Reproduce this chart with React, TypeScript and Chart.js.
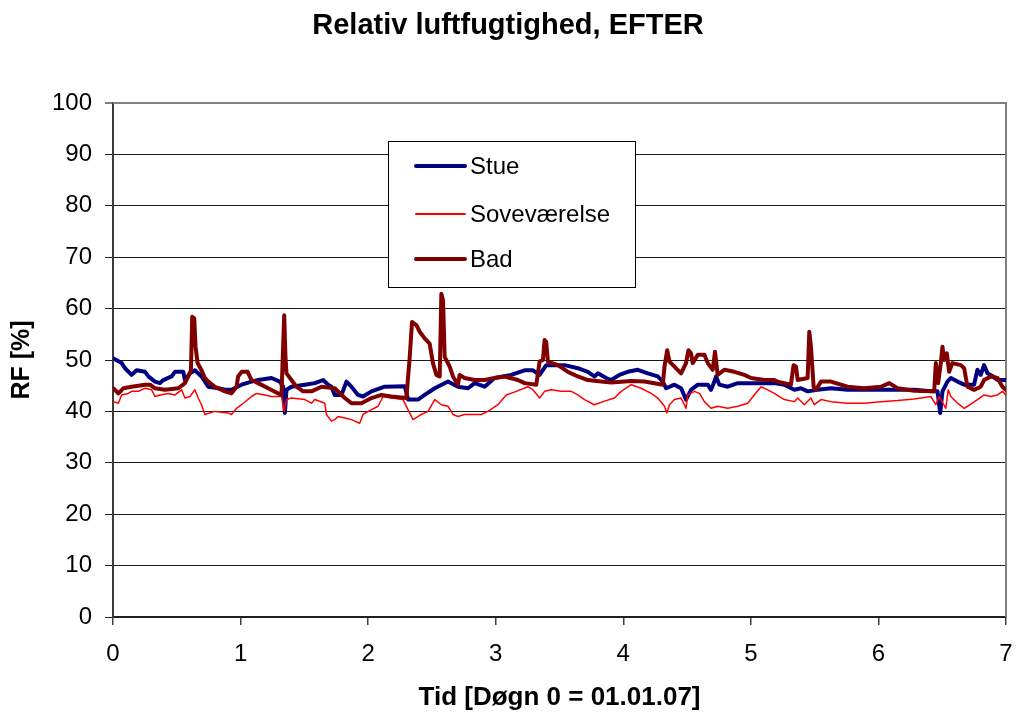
import React, { useEffect, useRef } from 'react';
import { Chart, registerables } from 'chart.js';

Chart.register(...registerables);

const TITLE = 'Relativ luftfugtighed, EFTER';
const X_TITLE = 'Tid [Døgn 0 = 01.01.07]';
const Y_TITLE = 'RF [%]';
const SERIES_LABELS = ['Stue', 'Soveværelse', 'Bad'];
const SERIES_COLORS = ['#000080', '#FF0000', '#800000'];

const stueX = [0.003, 0.068, 0.094, 0.146, 0.185, 0.251, 0.277, 0.329, 0.368, 0.394, 0.459, 0.486, 0.551, 0.564, 0.603, 0.642, 0.694, 0.747, 0.825, 0.877, 0.929, 1.008, 1.086, 1.138, 1.243, 1.308, 1.334, 1.347, 1.36, 1.399, 1.504, 1.582, 1.647, 1.686, 1.712, 1.738, 1.791, 1.83, 1.869, 1.921, 1.96, 2.026, 2.13, 2.287, 2.313, 2.391, 2.443, 2.522, 2.626, 2.704, 2.783, 2.835, 2.913, 2.991, 3.122, 3.226, 3.292, 3.344, 3.396, 3.461, 3.54, 3.644, 3.722, 3.774, 3.801, 3.866, 3.905, 3.97, 4.035, 4.114, 4.192, 4.27, 4.31, 4.336, 4.401, 4.453, 4.492, 4.531, 4.584, 4.662, 4.688, 4.714, 4.727, 4.753, 4.819, 4.897, 5.001, 5.08, 5.184, 5.262, 5.341, 5.393, 5.445, 5.523, 5.628, 5.758, 5.889, 6.019, 6.15, 6.28, 6.411, 6.463, 6.484, 6.502, 6.541, 6.568, 6.62, 6.672, 6.75, 6.776, 6.802, 6.828, 6.855, 6.899, 6.933, 6.998];
const stueY = [50.3, 49.4, 48.4, 47.1, 48.0, 47.7, 46.8, 45.8, 45.5, 46.1, 46.8, 47.7, 47.7, 46.1, 47.4, 48.0, 46.8, 44.8, 44.5, 44.2, 44.2, 45.2, 45.8, 46.1, 46.5, 45.8, 44.8, 39.7, 44.2, 44.8, 45.2, 45.5, 46.1, 45.2, 44.8, 43.2, 43.2, 45.8, 44.8, 43.2, 42.9, 43.9, 44.8, 44.9, 42.3, 42.3, 43.2, 44.5, 45.8, 44.8, 44.5, 45.5, 44.8, 46.5, 47.1, 48.0, 48.0, 47.1, 49.0, 49.0, 49.0, 48.4, 47.7, 46.8, 47.4, 46.5, 46.1, 47.1, 47.7, 48.1, 47.4, 46.8, 45.8, 44.5, 45.2, 44.5, 42.3, 44.2, 45.2, 45.2, 44.2, 45.8, 46.8, 45.2, 44.8, 45.5, 45.5, 45.5, 45.5, 45.2, 44.2, 44.5, 43.9, 44.2, 44.5, 44.2, 44.2, 44.2, 44.2, 44.2, 43.9, 43.9, 39.7, 43.9, 45.8, 46.5, 45.8, 45.2, 45.2, 48.1, 47.1, 49.0, 47.4, 46.8, 46.1, 46.1];

const sovX = [0.003, 0.042, 0.068, 0.12, 0.146, 0.198, 0.251, 0.303, 0.329, 0.368, 0.433, 0.486, 0.538, 0.564, 0.603, 0.642, 0.668, 0.694, 0.72, 0.799, 0.903, 0.929, 0.968, 1.008, 1.086, 1.125, 1.19, 1.243, 1.321, 1.342, 1.36, 1.399, 1.504, 1.556, 1.582, 1.66, 1.673, 1.712, 1.738, 1.765, 1.817, 1.869, 1.934, 1.96, 2.0, 2.078, 2.117, 2.182, 2.274, 2.313, 2.352, 2.417, 2.469, 2.522, 2.574, 2.626, 2.665, 2.704, 2.756, 2.809, 2.887, 2.939, 3.017, 3.083, 3.161, 3.252, 3.292, 3.344, 3.383, 3.435, 3.513, 3.592, 3.644, 3.696, 3.774, 3.853, 3.931, 3.983, 4.062, 4.14, 4.218, 4.27, 4.323, 4.341, 4.362, 4.401, 4.453, 4.492, 4.505, 4.558, 4.597, 4.636, 4.688, 4.74, 4.819, 4.897, 4.975, 5.027, 5.08, 5.132, 5.184, 5.262, 5.341, 5.367, 5.419, 5.471, 5.497, 5.55, 5.628, 5.758, 5.889, 6.019, 6.15, 6.28, 6.411, 6.45, 6.476, 6.528, 6.547, 6.568, 6.62, 6.672, 6.698, 6.776, 6.828, 6.881, 6.933, 6.972, 6.998];
const sovY = [41.9, 41.6, 43.2, 43.5, 43.9, 43.9, 44.5, 44.2, 42.9, 43.2, 43.5, 43.2, 44.2, 42.6, 42.9, 44.2, 42.6, 41.3, 39.4, 40.0, 39.7, 39.4, 40.6, 41.3, 42.9, 43.5, 43.2, 42.9, 42.9, 40.0, 42.3, 42.6, 42.3, 41.6, 42.3, 41.6, 39.4, 38.1, 38.4, 39.0, 38.7, 38.4, 37.7, 39.4, 40.0, 41.0, 42.9, 42.6, 42.3, 40.3, 38.4, 39.4, 40.0, 42.3, 41.3, 41.0, 39.4, 39.0, 39.4, 39.4, 39.4, 40.0, 41.3, 43.2, 43.9, 44.8, 44.2, 42.6, 43.9, 44.2, 43.9, 43.9, 43.2, 42.3, 41.3, 42.0, 42.6, 43.9, 45.2, 44.5, 43.5, 42.6, 41.0, 39.7, 41.3, 42.3, 42.6, 40.6, 43.2, 43.9, 43.5, 41.9, 40.6, 41.0, 40.6, 41.0, 41.6, 43.2, 44.8, 44.2, 43.5, 42.3, 41.9, 42.6, 41.3, 42.6, 41.3, 42.3, 41.9, 41.6, 41.6, 41.9, 42.1, 42.4, 42.9, 41.3, 42.9, 40.6, 44.2, 42.9, 41.6, 40.6, 41.0, 42.3, 43.2, 42.9, 43.2, 43.9, 43.2];

const badX = [0.003, 0.042, 0.081, 0.146, 0.251, 0.29, 0.329, 0.407, 0.512, 0.564, 0.59, 0.611, 0.621, 0.637, 0.647, 0.663, 0.694, 0.72, 0.747, 0.799, 0.877, 0.929, 0.968, 0.981, 1.008, 1.055, 1.086, 1.138, 1.216, 1.295, 1.321, 1.329, 1.342, 1.352, 1.36, 1.399, 1.438, 1.49, 1.556, 1.634, 1.738, 1.817, 1.869, 1.947, 2.026, 2.104, 2.182, 2.3, 2.326, 2.344, 2.378, 2.404, 2.443, 2.482, 2.508, 2.535, 2.561, 2.574, 2.587, 2.6, 2.639, 2.665, 2.704, 2.717, 2.756, 2.835, 2.913, 2.991, 3.07, 3.174, 3.226, 3.318, 3.344, 3.37, 3.383, 3.396, 3.409, 3.487, 3.566, 3.644, 3.722, 3.827, 3.905, 4.062, 4.166, 4.31, 4.323, 4.344, 4.362, 4.401, 4.453, 4.492, 4.511, 4.531, 4.544, 4.584, 4.636, 4.662, 4.701, 4.719, 4.74, 4.792, 4.871, 4.949, 5.001, 5.106, 5.184, 5.21, 5.314, 5.335, 5.354, 5.367, 5.445, 5.458, 5.471, 5.492, 5.51, 5.55, 5.628, 5.758, 5.889, 6.019, 6.085, 6.15, 6.28, 6.437, 6.45, 6.468, 6.489, 6.502, 6.515, 6.536, 6.554, 6.58, 6.646, 6.672, 6.698, 6.75, 6.802, 6.828, 6.881, 6.933, 6.972, 6.998];
const badY = [44.5, 43.5, 44.5, 44.8, 45.2, 45.2, 44.5, 44.2, 44.5, 45.5, 46.8, 48.0, 58.4, 58.1, 52.6, 49.4, 48.0, 46.5, 45.8, 44.8, 43.9, 43.5, 44.8, 46.8, 47.7, 47.7, 46.1, 45.5, 44.5, 43.5, 43.2, 49.4, 58.7, 50.6, 47.4, 46.1, 44.8, 43.9, 43.9, 44.8, 44.5, 42.6, 41.6, 41.6, 42.6, 43.2, 42.9, 42.6, 50.6, 57.4, 56.8, 55.5, 54.2, 53.2, 49.4, 47.1, 46.8, 62.9, 61.6, 50.6, 48.7, 46.8, 45.2, 47.1, 46.5, 46.1, 46.1, 46.5, 46.8, 46.1, 45.5, 45.2, 49.7, 50.0, 53.9, 53.5, 49.7, 49.0, 47.7, 46.8, 46.1, 45.8, 45.6, 45.9, 45.8, 45.2, 48.7, 51.9, 49.7, 48.7, 47.4, 49.4, 51.9, 51.3, 49.4, 51.0, 51.0, 49.4, 48.1, 51.6, 47.1, 48.1, 47.7, 47.1, 46.5, 46.1, 46.1, 45.8, 45.2, 49.0, 48.7, 46.1, 46.5, 55.5, 52.6, 44.8, 44.2, 45.8, 45.8, 44.8, 44.5, 44.8, 45.5, 44.5, 44.0, 43.9, 49.4, 45.5, 49.4, 52.6, 50.0, 51.3, 47.7, 49.4, 49.0, 48.4, 44.8, 44.2, 44.8, 46.1, 46.8, 46.5, 44.8, 44.2];

const X_MIN = 0;
const X_MAX = 7;
const Y_MIN = 0;
const Y_MAX = 100;

const toPoints = (xs: number[], ys: number[]) => xs.map((x, i) => ({ x, y: ys[i] }));

const FONT = 'Liberation Sans, Arial, sans-serif';

const legendBoxPlugin = {
  id: 'legendBox',
  afterDraw(chart: any) {
    const ctx = chart.ctx;
    const x0 = 388.5, y0 = 141.5, w = 247, h = 146;
    const rows = [166, 214, 259];
    const widths = [4, 2, 4];
    ctx.save();
    ctx.fillStyle = '#ffffff';
    ctx.fillRect(x0, y0, w, h);
    ctx.strokeStyle = '#000000';
    ctx.lineWidth = 1;
    ctx.strokeRect(x0, y0, w, h);
    chart.data.datasets.forEach((ds: any, i: number) => {
      const y = rows[i];
      ctx.beginPath();
      ctx.strokeStyle = ds.borderColor;
      ctx.lineWidth = widths[i];
      ctx.lineCap = 'round';
      ctx.moveTo(416, y);
      ctx.lineTo(465, y);
      ctx.stroke();
      ctx.fillStyle = '#000000';
      ctx.font = `24px ${FONT}`;
      ctx.textBaseline = 'middle';
      ctx.textAlign = 'left';
      ctx.fillText(ds.label, 470, y + 1);
    });
    ctx.restore();
  },
};

const plotBorderPlugin = {
  id: 'plotBorder',
  beforeDatasetsDraw(chart: any) {
    const { ctx, chartArea } = chart;
    ctx.save();
    ctx.strokeStyle = '#808080';
    ctx.lineWidth = 2;
    ctx.beginPath();
    ctx.moveTo(chartArea.left, chartArea.top);
    ctx.lineTo(chartArea.right, chartArea.top);
    ctx.lineTo(chartArea.right, chartArea.bottom);
    ctx.stroke();
    ctx.restore();
  },
};

export default function App() {
  const canvasRef = useRef<HTMLCanvasElement | null>(null);

  useEffect(() => {
    if (!canvasRef.current) return;
    const lineBase = {
      pointRadius: 0,
      tension: 0,
      borderJoinStyle: 'round',
      borderCapStyle: 'round',
    };
    const chart = new Chart(canvasRef.current, {
      type: 'line',
      data: {
        datasets: [
          {
            ...lineBase,
            label: SERIES_LABELS[0],
            data: toPoints(stueX, stueY),
            borderColor: SERIES_COLORS[0],
            backgroundColor: SERIES_COLORS[0],
            borderWidth: 4,
            order: 2,
          },
          {
            ...lineBase,
            label: SERIES_LABELS[1],
            data: toPoints(sovX, sovY),
            borderColor: SERIES_COLORS[1],
            backgroundColor: SERIES_COLORS[1],
            borderWidth: 1.5,
            order: 1,
          },
          {
            ...lineBase,
            label: SERIES_LABELS[2],
            data: toPoints(badX, badY),
            borderColor: SERIES_COLORS[2],
            backgroundColor: SERIES_COLORS[2],
            borderWidth: 4,
            order: 0,
          },
        ],
      },
      options: {
        responsive: false,
        animation: false,
        layout: { padding: { left: 0, right: 0, top: 0, bottom: 0 } },
        plugins: {
          legend: { display: false },
          tooltip: { enabled: false },
          title: {
            display: true,
            text: TITLE,
            color: '#000000',
            font: { family: FONT, size: 29, weight: 'bold' },
            padding: { top: 9, bottom: 59.2 },
          },
        },
        scales: {
          x: {
            type: 'linear',
            min: X_MIN,
            max: X_MAX,
            afterFit: (scale: any) => {
              scale.height = 99;
              scale.paddingRight = 10;
            },
            ticks: {
              stepSize: 1,
              color: '#000000',
              font: { family: FONT, size: 24 },
              padding: 15,
              maxRotation: 0,
            },
            grid: {
              drawOnChartArea: false,
              drawTicks: true,
              tickLength: 8,
              color: '#404040',
              lineWidth: 1.5,
            },
            border: { display: true, color: '#202020', width: 2 },
            title: {
              display: true,
              text: X_TITLE,
              color: '#000000',
              font: { family: FONT, size: 26, weight: 'bold' },
              padding: { top: 0, bottom: 3 },
            },
          },
          y: {
            type: 'linear',
            min: Y_MIN,
            max: Y_MAX,
            afterFit: (scale: any) => {
              scale.width = 113;
            },
            ticks: {
              stepSize: 10,
              color: '#000000',
              font: { family: FONT, size: 24 },
              padding: 13,
            },
            grid: {
              drawTicks: true,
              tickLength: 8,
              color: (c: any) => (c.tick && c.tick.value === 100 ? '#808080' : '#1a1a1a'),
              lineWidth: (c: any) => (c.tick && c.tick.value === 100 ? 2 : 1),
            },
            border: { display: true, color: '#3a3a3a', width: 2 },
            title: {
              display: true,
              text: Y_TITLE,
              color: '#000000',
              font: { family: FONT, size: 25, weight: 'bold' },
              padding: { top: 7, bottom: 0 },
            },
          },
        },
      },
      plugins: [plotBorderPlugin, legendBoxPlugin],
    } as any);
    return () => chart.destroy();
  }, []);

  return (
    <div style={{ position: 'absolute', left: 0, top: 0, width: 1016, height: 716, background: '#ffffff' }}>
      <canvas ref={canvasRef} width={1016} height={716} style={{ display: 'block' }} />
    </div>
  );
}
